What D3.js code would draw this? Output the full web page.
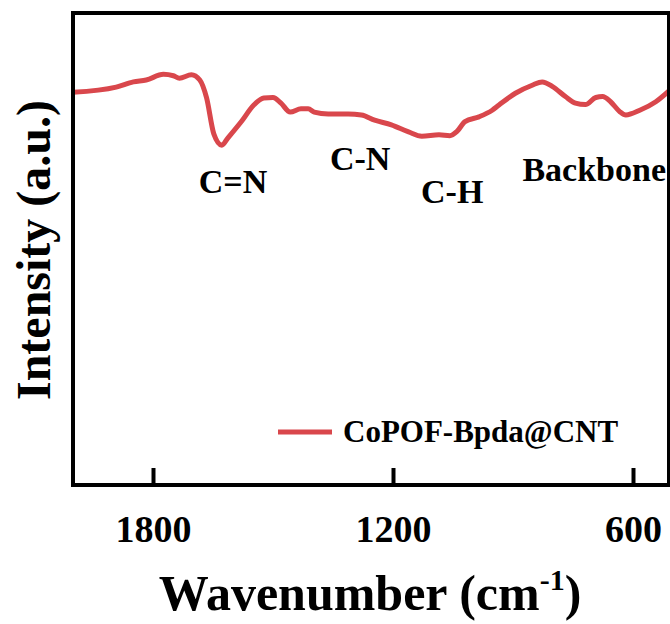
<!DOCTYPE html>
<html><head><meta charset="utf-8">
<script src="https://cdn.jsdelivr.net/npm/d3@7/dist/d3.min.js"></script>
<style>body{margin:0;background:#fff}svg{display:block}</style>
</head><body>
<svg id="c" width="670" height="624"></svg>
<script>
// ---- data ----
const wavenumber = [2000,1892,1849,1817,1774,1749,1734,1704,1683,1666,1648,1628,1613,1580,1548,1523,1500,1480,1457,1430,1412,1397,1362,1312,1279,1246,1204,1161,1128,1085,1058,1040,1020,985,952,935,894,852,827,801,769,744,719,693,676,656,633,618,583,543,510];
const intensity  = [83.2,84.3,85.4,85.8,87.0,86.7,86.2,86.9,85.8,82.0,74.4,72.0,73.5,76.9,80.5,82.0,82.1,80.9,79.0,79.7,79.7,79.0,78.6,78.6,78.4,77.3,76.3,74.8,73.9,74.2,74.0,74.9,77.0,78.0,79.4,80.5,83.0,84.7,85.4,84.4,82.3,80.9,80.6,82.1,82.3,81.2,79.1,78.4,79.4,81.2,83.5];
const xTicks = [1800, 1200, 600];
const seriesName = "CoPOF-Bpda@CNT";
const annotationText = ["C=N", "C-N", "C-H", "Backbone"];
const annotationWave = [1600, 1282, 1052, 697];
const annotationInt  = [61.9, 66.7, 59.7, 64.4];

// ---- layout ----
const svg = d3.select("#c");
const L = 73, R = 669, T = 13, B = 485;
const x = d3.scaleLinear().domain([2000, 510]).range([L, R]);
const y = d3.scaleLinear().domain([0, 100]).range([B, T]);
const font = "'Liberation Serif','Times New Roman',serif";
const red = "#d9474c";

svg.append("defs").append("clipPath").attr("id","clip")
  .append("rect").attr("x",L).attr("y",T).attr("width",R-L).attr("height",B-T);

// curve
const line = d3.line().x((d,i)=>x(wavenumber[i])).y(d=>y(d)).curve(d3.curveMonotoneX);
svg.append("path").datum(intensity)
  .attr("clip-path","url(#clip)")
  .attr("d", line).attr("fill","none").attr("stroke", red)
  .attr("stroke-width", 5).attr("stroke-linejoin","round").attr("stroke-linecap","round");

// x axis ticks (inward)
const xAxis = d3.axisBottom(x).tickValues(xTicks).tickSizeInner(-17).tickSizeOuter(0).tickPadding(40).tickFormat(d3.format("d"));
const gx = svg.append("g").attr("transform", `translate(0,${B})`).call(xAxis);
gx.select(".domain").remove();
gx.selectAll(".tick line").attr("stroke","#000").attr("stroke-width",4);
gx.selectAll(".tick text").attr("font-family",font).attr("font-weight","bold")
  .attr("font-size",38).attr("fill","#000").attr("dy",null).attr("y",57);

// frame
svg.append("rect").attr("x",L).attr("y",T).attr("width",R-L).attr("height",B-T)
  .attr("fill","none").attr("stroke","#000").attr("stroke-width",4);

// annotations
svg.append("g").selectAll("text").data(annotationText).join("text")
  .attr("x",(d,i)=>x(annotationWave[i])).attr("y",(d,i)=>y(annotationInt[i]))
  .attr("text-anchor","middle").attr("font-family",font).attr("font-weight","bold")
  .attr("font-size",34).attr("fill","#000").text(d=>d);

// legend
const lg = svg.append("g");
lg.append("line").attr("x1",278).attr("x2",332).attr("y1",432).attr("y2",432)
  .attr("stroke",red).attr("stroke-width",5);
lg.append("text").attr("x",343).attr("y",442).attr("font-family",font).attr("font-weight","bold")
  .attr("font-size",31).attr("fill","#000").text(seriesName);

// axis titles
const xt = svg.append("text").attr("x",370).attr("y",610).attr("text-anchor","middle")
  .attr("font-family",font).attr("font-weight","bold").attr("font-size",50).attr("fill","#000");
xt.append("tspan").text("Wavenumber (cm");
xt.append("tspan").attr("font-size",30).attr("dy",-20).text("-1");
xt.append("tspan").attr("dy",20).text(")");

svg.append("text").attr("transform","translate(50,250) rotate(-90)").attr("text-anchor","middle")
  .attr("font-family",font).attr("font-weight","bold").attr("font-size",48).attr("fill","#000")
  .text("Intensity (a.u.)");
</script>
</body></html>
